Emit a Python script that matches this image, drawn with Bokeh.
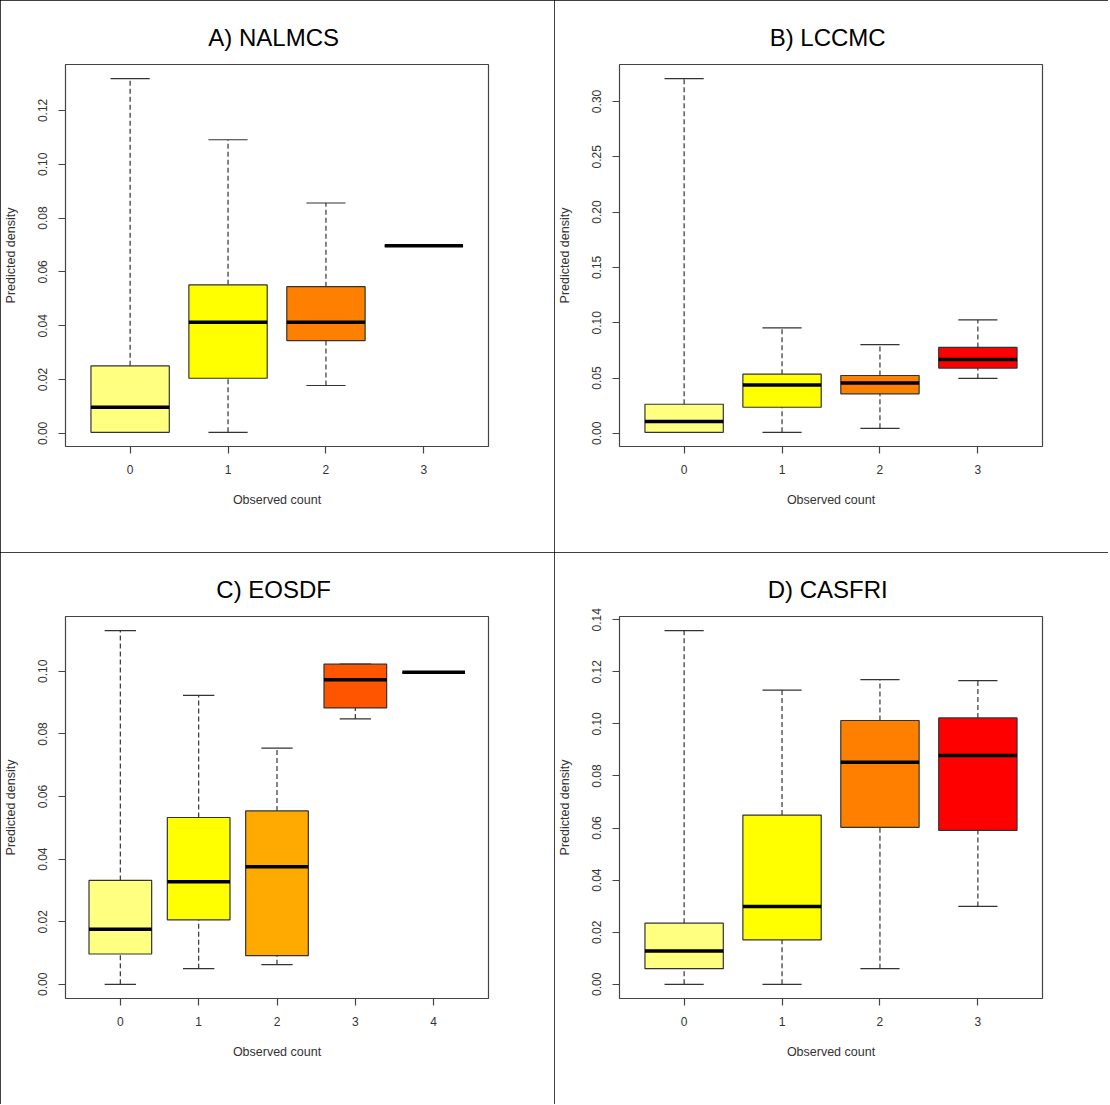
from bokeh.plotting import figure
from bokeh.layouts import row, column
from bokeh.models import Range1d, FixedTicker
from bokeh.embed import file_html
from bokeh.resources import INLINE

# ---------------- data ----------------
titles = ["A)  NALMCS", "B)  LCCMC", "C)  EOSDF", "D)  CASFRI"]

counts_A = [0, 1, 2, 3]
lower_A  = [0.0004, 0.0004, 0.0178, 0.0697]
q1_A     = [0.0004, 0.0205, 0.0345, 0.0697]
median_A = [0.0097, 0.0413, 0.0413, 0.0697]
q3_A     = [0.0251, 0.0552, 0.0545, 0.0697]
upper_A  = [0.1318, 0.1091, 0.0856, 0.0697]
colors_A = ["#FFFF80", "#FFFF00", "#FF8000", "#FF0000"]
yticks_A = [0.00, 0.02, 0.04, 0.06, 0.08, 0.10, 0.12]
ylabels_A = ["0.00", "0.02", "0.04", "0.06", "0.08", "0.10", "0.12"]

counts_B = [0, 1, 2, 3]
lower_B  = [0.0009, 0.0009, 0.0045, 0.0496]
q1_B     = [0.0009, 0.0236, 0.0357, 0.0590]
median_B = [0.0106, 0.0436, 0.0454, 0.0668]
q3_B     = [0.0263, 0.0535, 0.0523, 0.0777]
upper_B  = [0.3206, 0.0953, 0.0802, 0.1025]
colors_B = ["#FFFF80", "#FFFF00", "#FF8000", "#FF0000"]
yticks_B = [0.00, 0.05, 0.10, 0.15, 0.20, 0.25, 0.30]
ylabels_B = ["0.00", "0.05", "0.10", "0.15", "0.20", "0.25", "0.30"]

counts_C = [0, 1, 2, 3, 4]
lower_C  = [0.0000, 0.0050, 0.0063, 0.0848, 0.0997]
q1_C     = [0.0097, 0.0206, 0.0092, 0.0883, 0.0997]
median_C = [0.0176, 0.0328, 0.0376, 0.0973, 0.0997]
q3_C     = [0.0332, 0.0533, 0.0554, 0.1023, 0.0997]
upper_C  = [0.1130, 0.0923, 0.0755, 0.1023, 0.0997]
colors_C = ["#FFFF80", "#FFFF00", "#FFAA00", "#FF5500", "#FF0000"]
yticks_C = [0.00, 0.02, 0.04, 0.06, 0.08, 0.10]
ylabels_C = ["0.00", "0.02", "0.04", "0.06", "0.08", "0.10"]

counts_D = [0, 1, 2, 3]
lower_D  = [0.0000, 0.0000, 0.0060, 0.0299]
q1_D     = [0.0060, 0.0171, 0.0603, 0.0591]
median_D = [0.0128, 0.0299, 0.0853, 0.0879]
q3_D     = [0.0235, 0.0650, 0.1013, 0.1023]
upper_D  = [0.1358, 0.1130, 0.1170, 0.1166]
colors_D = ["#FFFF80", "#FFFF00", "#FF8000", "#FF0000"]
yticks_D = [0.00, 0.02, 0.04, 0.06, 0.08, 0.10, 0.12, 0.14]
ylabels_D = ["0.00", "0.02", "0.04", "0.06", "0.08", "0.10", "0.12", "0.14"]

xlabel = "Observed count"
ylabel = "Predicted density"

FONT = "Liberation Sans"
W, H = 554, 552


def make_panel(title, counts, lower, q1, med, q3, upper, colors, yticks, ylabels):
    n = len(counts)
    lo, hi = min(lower), max(upper)
    pad = 0.04 * (hi - lo)
    xlo = min(counts) - 0.5 - 0.04 * n
    xhi = max(counts) + 0.5 + 0.04 * n
    p = figure(width=W, height=H, output_backend="svg", toolbar_location=None,
               x_range=Range1d(xlo, xhi), y_range=Range1d(lo - pad, hi + pad),
               min_border_left=63, min_border_right=66, min_border_top=64,
               min_border_bottom=106, background_fill_color="white",
               border_fill_color="white")
    p.styles = {"outline": "1.5px solid black", "outline-offset": "-1.5px"}
    p.title.text = title
    p.title.align = "center"
    p.title.vertical_align = "bottom"
    p.title.text_font = FONT
    p.title.text_font_size = "24px"
    p.title.text_font_style = "normal"
    p.title.text_color = "black"
    p.title.standoff = 10
    p.title.padding = 9

    p.xgrid.visible = False
    p.ygrid.visible = False
    p.outline_line_color = "#444444"
    p.outline_line_width = 1.2

    for ax in (p.xaxis[0], p.yaxis[0]):
        ax.axis_line_color = None
        ax.major_tick_line_color = "#444444"
        ax.major_tick_line_width = 1.2
        ax.major_tick_out = 7
        ax.major_tick_in = 0
        ax.minor_tick_line_color = None
        ax.major_label_text_font = FONT
        ax.major_label_text_font_size = "12px"
        ax.major_label_text_color = "#333333"
        ax.axis_label_text_font = FONT
        ax.axis_label_text_font_size = "12.5px"
        ax.axis_label_text_font_style = "normal"
        ax.axis_label_text_color = "#333333"

    p.xaxis.major_label_standoff = 11
    p.xaxis.axis_label_standoff = 16
    p.yaxis.major_label_standoff = 11
    p.yaxis.axis_label_standoff = 18

    p.xaxis.ticker = FixedTicker(ticks=counts)
    p.xaxis.major_label_overrides = {c: str(c) for c in counts}
    p.xaxis.axis_label = xlabel
    p.yaxis.ticker = FixedTicker(ticks=yticks)
    p.yaxis.major_label_overrides = {t: l for t, l in zip(yticks, ylabels)}
    p.yaxis.major_label_orientation = "vertical"
    p.yaxis.axis_label = ylabel

    # whiskers
    p.segment(x0=counts, y0=q3, x1=counts, y1=upper, line_color="#333333",
              line_width=1.2, line_dash="5 3")
    p.segment(x0=counts, y0=lower, x1=counts, y1=q1, line_color="#333333",
              line_width=1.2, line_dash="5 3")
    # staples
    cap_l = [c - 0.2 for c in counts]
    cap_r = [c + 0.2 for c in counts]
    p.segment(x0=cap_l, y0=upper, x1=cap_r, y1=upper, line_color="#333333", line_width=1.2)
    p.segment(x0=cap_l, y0=lower, x1=cap_r, y1=lower, line_color="#333333", line_width=1.2)
    # boxes
    p.vbar(x=counts, width=0.8, bottom=q1, top=q3, fill_color=colors,
           line_color="#333333", line_width=1.2)
    # medians
    med_l = [c - 0.4 for c in counts]
    med_r = [c + 0.4 for c in counts]
    p.segment(x0=med_l, y0=med, x1=med_r, y1=med, line_color="black",
              line_width=3.5, line_cap="butt")
    return p


pA = make_panel(titles[0], counts_A, lower_A, q1_A, median_A, q3_A, upper_A, colors_A, yticks_A, ylabels_A)
pB = make_panel(titles[1], counts_B, lower_B, q1_B, median_B, q3_B, upper_B, colors_B, yticks_B, ylabels_B)
pC = make_panel(titles[2], counts_C, lower_C, q1_C, median_C, q3_C, upper_C, colors_C, yticks_C, ylabels_C)
pD = make_panel(titles[3], counts_D, lower_D, q1_D, median_D, q3_D, upper_D, colors_D, yticks_D, ylabels_D)

lay = column(row(pA, pB), row(pC, pD))
lay.styles = {"outline": "1px solid black", "outline-offset": "-2px"}

open("out.html", "w").write(file_html(lay, INLINE))
